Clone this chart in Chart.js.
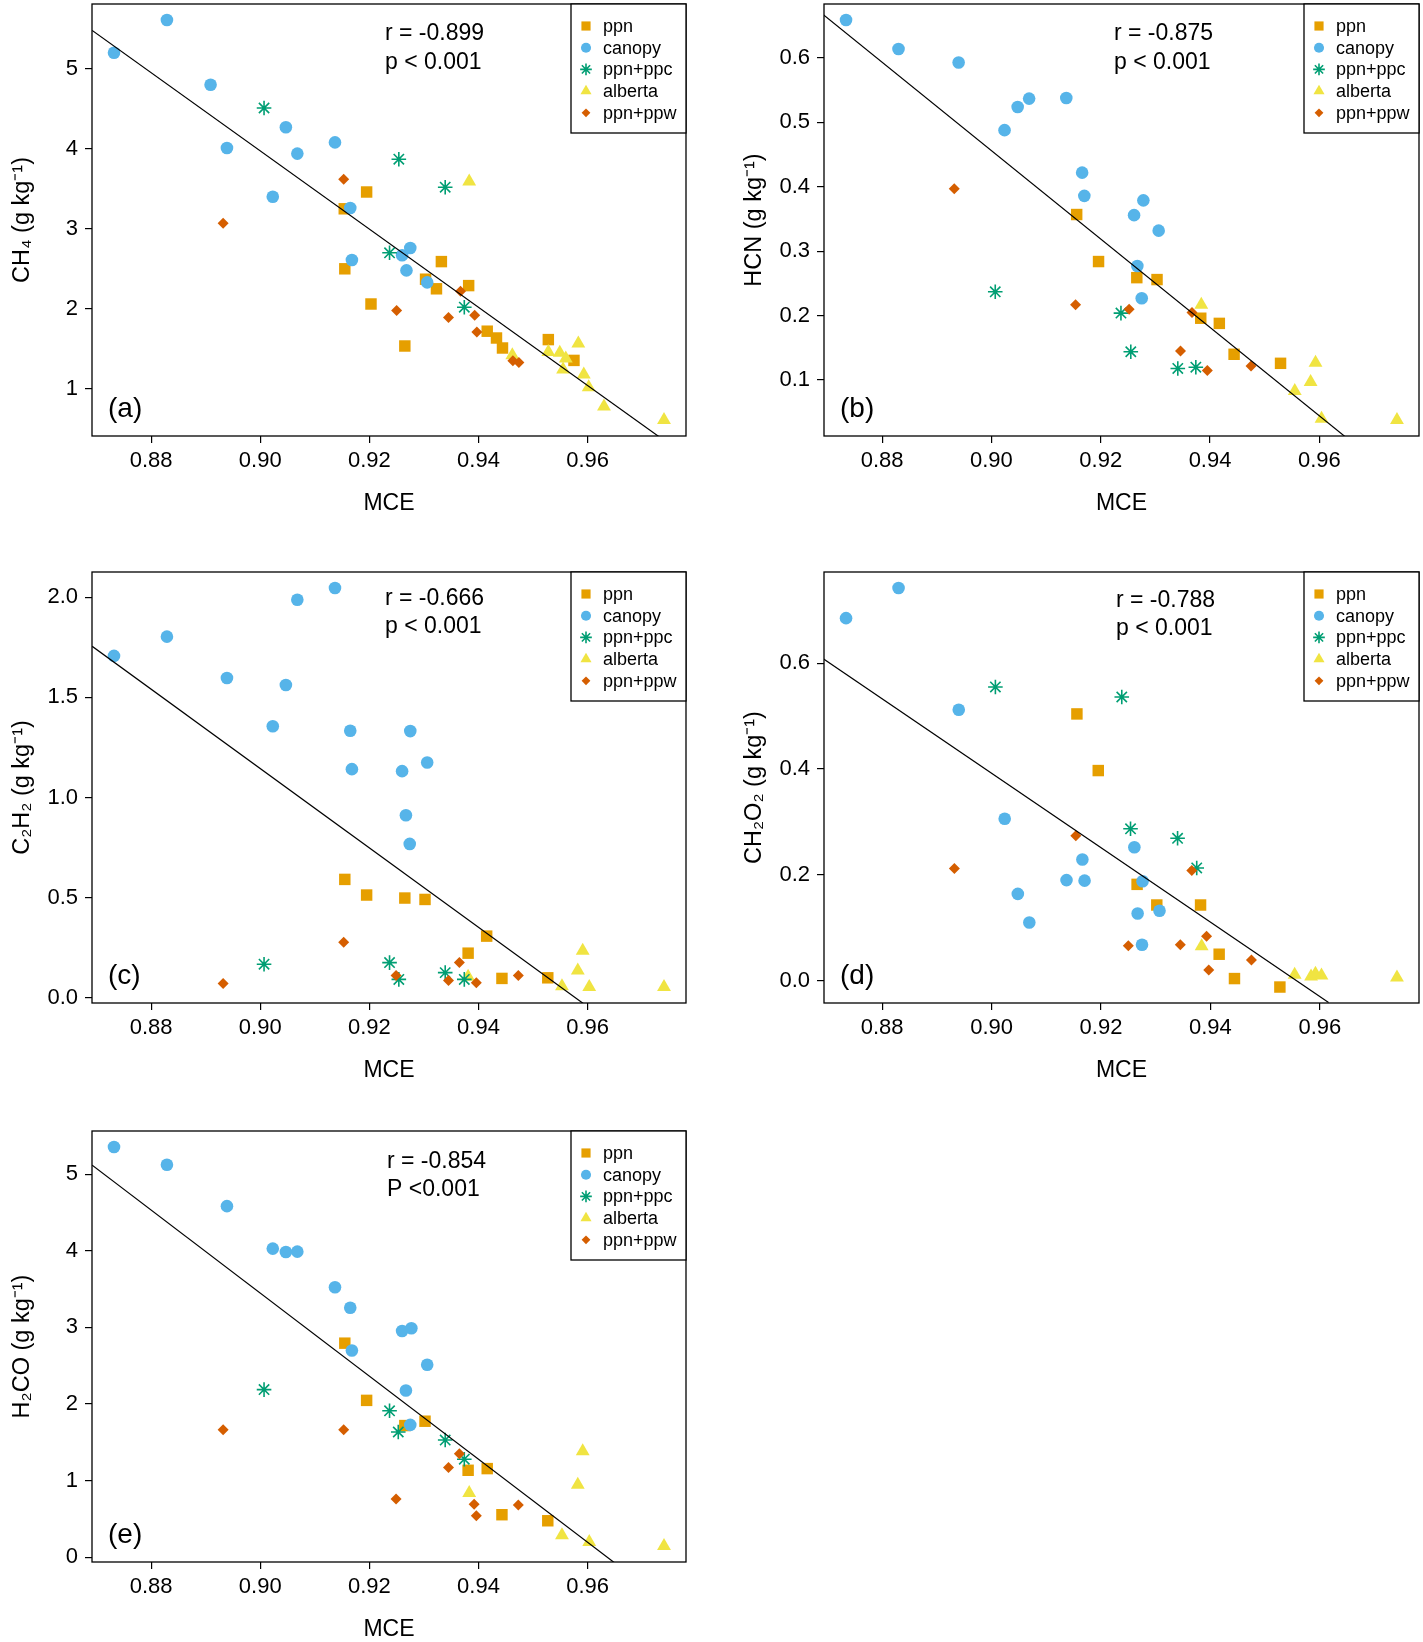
<!DOCTYPE html>
<html><head><meta charset="utf-8">
<script src="https://cdn.jsdelivr.net/npm/chart.js@4.4.1/dist/chart.umd.min.js"></script>
<style>
html,body{margin:0;padding:0;background:#fff;overflow:hidden;width:1423px;height:1642px;}
.panel{position:absolute;}
</style></head><body>
<div class="panel" style="left:0;top:0;width:700px;height:545px"><canvas id="ca"></canvas></div>
<div class="panel" style="left:732px;top:0;width:691px;height:545px"><canvas id="cb"></canvas></div>
<div class="panel" style="left:0;top:568px;width:700px;height:544px"><canvas id="cc"></canvas></div>
<div class="panel" style="left:732px;top:568px;width:691px;height:544px"><canvas id="cd"></canvas></div>
<div class="panel" style="left:0;top:1127px;width:700px;height:544px"><canvas id="ce"></canvas></div>
<script>
// ---------- data: [MCE, emission factor] ----------
const seriesNames = ['ppn', 'canopy', 'ppn+ppc', 'alberta', 'ppn+ppw'];

const ch4_ppn = [[0.9154,3.25],[0.9195,3.46],[0.9155,2.50],[0.9203,2.06],[0.9265,1.535],[0.9303,2.37],[0.9323,2.25],[0.9332,2.59],[0.9382,2.29],[0.9416,1.72],[0.9433,1.635],[0.9444,1.51],[0.9528,1.615],[0.9575,1.355]];
const ch4_canopy = [[0.8732,5.20],[0.8829,5.61],[0.8909,4.80],[0.8939,4.01],[0.9023,3.40],[0.9047,4.27],[0.9068,3.94],[0.9137,4.08],[0.9165,3.26],[0.9168,2.61],[0.9260,2.67],[0.9268,2.48],[0.9275,2.76],[0.9306,2.33]];
const ch4_ppc = [[0.9007,4.51],[0.9254,3.87],[0.9339,3.52],[0.9237,2.70],[0.9374,2.02]];
const ch4_alberta = [[0.9383,3.59],[0.9462,1.42],[0.9528,1.46],[0.9549,1.45],[0.9560,1.38],[0.9555,1.24],[0.9583,1.565],[0.9593,1.18],[0.9602,1.02],[0.9630,0.78],[0.9740,0.61]];
const ch4_ppw = [[0.8932,3.07],[0.9153,3.62],[0.9250,1.98],[0.9345,1.89],[0.9367,2.22],[0.9393,1.92],[0.9397,1.71],[0.9463,1.35],[0.9474,1.33]];
const ch4_fit = [[0.8692,5.48],[0.9734,0.386]];

const hcn_ppn = [[0.9156,0.357],[0.9196,0.284],[0.9266,0.259],[0.9303,0.256],[0.9383,0.196],[0.9417,0.188],[0.9444,0.140],[0.9529,0.126]];
const hcn_canopy = [[0.8734,0.659],[0.8830,0.614],[0.8940,0.593],[0.9024,0.488],[0.9048,0.524],[0.9069,0.537],[0.9137,0.538],[0.9166,0.422],[0.9170,0.386],[0.9261,0.356],[0.9267,0.277],[0.9278,0.379],[0.9275,0.227],[0.9306,0.332]];
const hcn_ppc = [[0.9007,0.237],[0.9237,0.204],[0.9255,0.144],[0.9341,0.118],[0.9374,0.120]];
const hcn_alberta = [[0.9384,0.217],[0.9555,0.083],[0.9584,0.097],[0.9593,0.127],[0.9604,0.040],[0.9742,0.038]];
const hcn_ppw = [[0.8932,0.397],[0.9154,0.217],[0.9252,0.210],[0.9346,0.145],[0.9367,0.205],[0.9395,0.115],[0.9475,0.122]];
const hcn_fit = [[0.8693,0.667],[0.9651,0.0095]];

const c2h2_ppn = [[0.9155,0.592],[0.9195,0.514],[0.9265,0.499],[0.9302,0.492],[0.9415,0.309],[0.9381,0.224],[0.9443,0.098],[0.9527,0.101]];
const c2h2_canopy = [[0.8732,1.707],[0.8829,1.803],[0.8939,1.597],[0.9023,1.356],[0.9047,1.562],[0.9068,1.987],[0.9137,2.046],[0.9165,1.334],[0.9168,1.142],[0.9260,1.132],[0.9267,0.912],[0.9275,1.332],[0.9274,0.769],[0.9306,1.175]];
const c2h2_ppc = [[0.9007,0.169],[0.9237,0.177],[0.9254,0.093],[0.9339,0.127],[0.9374,0.093]];
const c2h2_alberta = [[0.9381,0.106],[0.9553,0.059],[0.9582,0.137],[0.9591,0.236],[0.9603,0.055],[0.9740,0.055]];
const c2h2_ppw = [[0.8932,0.073],[0.9153,0.278],[0.9249,0.113],[0.9345,0.088],[0.9365,0.177],[0.9396,0.076],[0.9473,0.113]];
const c2h2_fit = [[0.8692,1.755],[0.9593,-0.029]];

const ch2o2_ppn = [[0.9156,0.504],[0.9195,0.397],[0.9266,0.182],[0.9302,0.143],[0.9382,0.143],[0.9416,0.050],[0.9444,0.004],[0.9527,-0.012]];
const ch2o2_canopy = [[0.8734,0.685],[0.8830,0.742],[0.8940,0.512],[0.9024,0.306],[0.9048,0.164],[0.9069,0.110],[0.9137,0.190],[0.9166,0.229],[0.9170,0.189],[0.9261,0.252],[0.9267,0.127],[0.9276,0.188],[0.9275,0.068],[0.9307,0.132]];
const ch2o2_ppc = [[0.9007,0.555],[0.9238,0.536],[0.9254,0.287],[0.9340,0.269],[0.9375,0.213]];
const ch2o2_alberta = [[0.9384,0.065],[0.9554,0.011],[0.9584,0.008],[0.9592,0.013],[0.9603,0.010],[0.9741,0.006]];
const ch2o2_ppw = [[0.8932,0.212],[0.9154,0.274],[0.9250,0.066],[0.9345,0.068],[0.9366,0.208],[0.9393,0.084],[0.9397,0.020],[0.9475,0.039]];
const ch2o2_fit = [[0.8693,0.608],[0.9616,-0.041]];

const h2co_ppn = [[0.9155,2.794],[0.9195,2.047],[0.9265,1.718],[0.9302,1.775],[0.9381,1.134],[0.9416,1.156],[0.9443,0.554],[0.9527,0.475]];
const h2co_canopy = [[0.8732,5.356],[0.8829,5.123],[0.8939,4.583],[0.9023,4.029],[0.9047,3.985],[0.9068,3.989],[0.9137,3.524],[0.9165,3.256],[0.9168,2.698],[0.9260,2.953],[0.9267,2.175],[0.9277,2.988],[0.9275,1.727],[0.9306,2.513]];
const h2co_ppc = [[0.9007,2.188],[0.9237,1.911],[0.9253,1.634],[0.9339,1.529],[0.9374,1.279]];
const h2co_alberta = [[0.9383,0.839],[0.9553,0.286],[0.9582,0.945],[0.9591,1.384],[0.9603,0.198],[0.9740,0.145]];
const h2co_ppw = [[0.8932,1.665],[0.9153,1.665],[0.9249,0.760],[0.9345,1.169],[0.9365,1.349],[0.9392,0.690],[0.9396,0.540],[0.9473,0.681]];
const h2co_fit = [[0.8692,5.119],[0.9652,-0.088]];

// ---------- tick labels ----------
const xTicks = [0.88, 0.90, 0.92, 0.94, 0.96];
const ch4Ticks = [1, 2, 3, 4, 5];
const hcnTicks = [0.1, 0.2, 0.3, 0.4, 0.5, 0.6];
const c2h2Ticks = [0.0, 0.5, 1.0, 1.5, 2.0];
const ch2o2Ticks = [0.0, 0.2, 0.4, 0.6];
const h2coTicks = [0, 1, 2, 3, 4, 5];

// ---------- styles ----------
const FONT = '"Liberation Sans", Arial, Helvetica, sans-serif';
Chart.defaults.font.family = FONT;
Chart.defaults.color = '#000';
const STYLES = [
  {pointStyle: 'rect', radius: 8.1, color: '#E69F00', order: 5},
  {pointStyle: 'circle', radius: 6.3, color: '#56B4E9', order: 4},
  {pointStyle: 'star', radius: 7.3, color: '#009E73', order: 2, stroke: 1.6},
  {pointStyle: 'triangle', radius: 8.0, color: '#F0E442', order: 3},
  {pointStyle: 'rectRot', radius: 5.5, color: '#D55E00', order: 1}
];

function drawSym(ctx, i, x, y, k) {
  const s = STYLES[i];
  ctx.fillStyle = s.color; ctx.strokeStyle = s.color;
  ctx.beginPath();
  if (s.pointStyle === 'rect') {
    const h = s.radius * Math.SQRT1_2 * k;
    ctx.rect(x - h, y - h, 2 * h, 2 * h); ctx.fill();
  } else if (s.pointStyle === 'circle') {
    ctx.arc(x, y, s.radius * k, 0, Math.PI * 2); ctx.fill();
  } else if (s.pointStyle === 'star') {
    const r = s.radius * k, d = r * Math.SQRT1_2;
    ctx.moveTo(x - r, y); ctx.lineTo(x + r, y);
    ctx.moveTo(x, y - r); ctx.lineTo(x, y + r);
    ctx.moveTo(x - d, y - d); ctx.lineTo(x + d, y + d);
    ctx.moveTo(x - d, y + d); ctx.lineTo(x + d, y - d);
    ctx.lineWidth = s.stroke; ctx.stroke();
  } else if (s.pointStyle === 'triangle') {
    const r = s.radius * k;
    ctx.moveTo(x, y - r);
    ctx.lineTo(x + r * Math.sin(2 * Math.PI / 3), y - r * Math.cos(2 * Math.PI / 3));
    ctx.lineTo(x + r * Math.sin(4 * Math.PI / 3), y - r * Math.cos(4 * Math.PI / 3));
    ctx.closePath(); ctx.fill();
  } else {
    const r = s.radius * k;
    ctx.moveTo(x, y - r); ctx.lineTo(x + r, y); ctx.lineTo(x, y + r); ctx.lineTo(x - r, y);
    ctx.closePath(); ctx.fill();
  }
}

const deco = {
  id: 'deco',
  afterDatasetsDraw(chart, args, o) {
    const {ctx, chartArea: a} = chart;
    ctx.save();
    ctx.strokeStyle = '#000'; ctx.lineWidth = 1.3;
    ctx.strokeRect(a.left, a.top, a.right - a.left, a.bottom - a.top);
    // legend
    const lw = 115, lh = 129, lx = a.right - lw, ly = a.top;
    ctx.fillStyle = '#fff'; ctx.fillRect(lx, ly, lw, lh);
    ctx.strokeStyle = '#000'; ctx.lineWidth = 1.3; ctx.strokeRect(lx, ly, lw, lh);
    seriesNames.forEach((name, i) => {
      const cy = ly + 22 + i * 21.7;
      drawSym(ctx, i, lx + 15, cy, 0.8);
      ctx.fillStyle = '#000'; ctx.font = '18px ' + FONT;
      ctx.textAlign = 'left'; ctx.textBaseline = 'middle';
      ctx.fillText(name, lx + 32, cy + 1);
    });
    // statistics
    ctx.fillStyle = '#000'; ctx.font = '23px ' + FONT;
    ctx.textAlign = 'left'; ctx.textBaseline = 'middle';
    ctx.fillText(o.r, a.left + o.ax, a.top + o.ry);
    ctx.fillText(o.p, a.left + o.ax, a.top + o.py);
    ctx.font = '28px ' + FONT;
    ctx.fillText(o.label, a.left + 16, a.bottom - 27);
    ctx.restore();
  }
};

function rRange(v) {
  const mn = Math.min(...v), mx = Math.max(...v), d = (mx - mn) * 0.04;
  return [mn - d, mx + d];
}

function makeChart(id, series, fit, yTicks, yDec, yTitle, padRight, deco_opts) {
  const all = [].concat(...series);
  const [xmin, xmax] = rRange(all.map(p => p[0]));
  const [ymin, ymax] = rRange(all.map(p => p[1]));
  const datasets = series.map((arr, i) => ({
    label: seriesNames[i],
    data: arr.map(p => ({x: p[0], y: p[1]})),
    pointStyle: STYLES[i].pointStyle,
    pointRadius: STYLES[i].radius,
    backgroundColor: STYLES[i].color,
    borderColor: STYLES[i].color,
    borderWidth: STYLES[i].stroke || 0,
    showLine: false,
    clip: false,
    order: STYLES[i].order
  }));
  datasets.push({
    label: 'fit',
    data: fit.map(p => ({x: p[0], y: p[1]})),
    showLine: true, pointRadius: 0, borderColor: '#000', borderWidth: 1.2,
    fill: false, clip: 0, order: 0
  });
  const tickFont = {size: 22, family: FONT};
  new Chart(document.getElementById(id), {
    type: 'scatter',
    data: {datasets},
    options: {
      responsive: true, maintainAspectRatio: false, animation: false,
      events: [],
      layout: {autoPadding: false, padding: {top: 4, right: padRight, left: 0, bottom: 0}},
      plugins: {legend: {display: false}, tooltip: {enabled: false}, deco: deco_opts},
      scales: {
        x: {
          type: 'linear', min: xmin, max: xmax,
          afterBuildTicks: s => { s.ticks = xTicks.map(v => ({value: v})); },
          afterFit: s => { s.height = 109; s.paddingLeft = 0; s.paddingRight = 0; },
          ticks: {callback: v => Number(v).toFixed(2), font: tickFont, color: '#000', padding: 5, maxRotation: 0, minRotation: 0, autoSkip: false},
          grid: {drawOnChartArea: false, drawTicks: true, tickLength: 7, color: '#000', lineWidth: 1.2},
          border: {display: false},
          title: {display: true, text: 'MCE', font: {size: 23, family: FONT}, color: '#000', padding: {top: 0, bottom: 28}}
        },
        y: {
          type: 'linear', min: ymin, max: ymax,
          afterBuildTicks: s => { s.ticks = yTicks.map(v => ({value: v})); },
          afterFit: s => { s.width = 92; s.paddingTop = 0; s.paddingBottom = 0; },
          ticks: {callback: v => Number(v).toFixed(yDec), font: tickFont, color: '#000', padding: 7, autoSkip: false},
          grid: {drawOnChartArea: false, drawTicks: true, tickLength: 7, color: '#000', lineWidth: 1.2},
          border: {display: false},
          title: {display: true, text: yTitle, font: {size: 23.5, family: FONT}, color: '#000', padding: {top: 8, bottom: 0}}
        }
      }
    },
    plugins: [deco]
  });
}

makeChart('ca', [ch4_ppn, ch4_canopy, ch4_ppc, ch4_alberta, ch4_ppw], ch4_fit, ch4Ticks, 0,
  'CH\u2084 (g kg\u207B\u00B9)', 14, {r: 'r = -0.899', p: 'p < 0.001', label: '(a)', ax: 293, ry: 30, py: 59});
makeChart('cb', [hcn_ppn, hcn_canopy, hcn_ppc, hcn_alberta, hcn_ppw], hcn_fit, hcnTicks, 1,
  'HCN (g kg\u207B\u00B9)', 4, {r: 'r = -0.875', p: 'p < 0.001', label: '(b)', ax: 290, ry: 30, py: 59});
makeChart('cc', [c2h2_ppn, c2h2_canopy, c2h2_ppc, c2h2_alberta, c2h2_ppw], c2h2_fit, c2h2Ticks, 1,
  'C\u2082H\u2082 (g kg\u207B\u00B9)', 14, {r: 'r = -0.666', p: 'p < 0.001', label: '(c)', ax: 293, ry: 27, py: 55});
makeChart('cd', [ch2o2_ppn, ch2o2_canopy, ch2o2_ppc, ch2o2_alberta, ch2o2_ppw], ch2o2_fit, ch2o2Ticks, 1,
  'CH\u2082O\u2082 (g kg\u207B\u00B9)', 4, {r: 'r = -0.788', p: 'p < 0.001', label: '(d)', ax: 292, ry: 29, py: 57});
makeChart('ce', [h2co_ppn, h2co_canopy, h2co_ppc, h2co_alberta, h2co_ppw], h2co_fit, h2coTicks, 0,
  'H\u2082CO (g kg\u207B\u00B9)', 14, {r: 'r = -0.854', p: 'P <0.001', label: '(e)', ax: 295, ry: 31, py: 59});
</script>
</body></html>
